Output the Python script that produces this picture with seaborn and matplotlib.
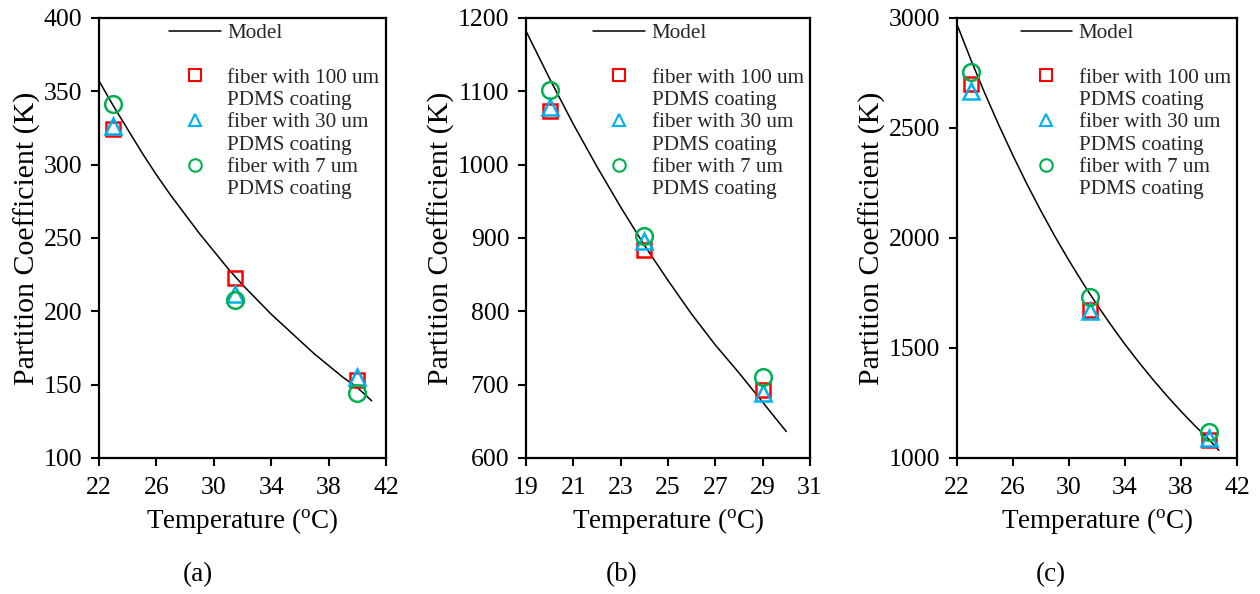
import matplotlib
matplotlib.use("Agg")
import matplotlib.pyplot as plt
from matplotlib.lines import Line2D
import seaborn as sns

# ---------------- data ----------------
# Panel (a)
a_temp = [23, 31.5, 40]
a_fiber100 = [324, 223, 153]
a_fiber30 = [326, 212, 155]
a_fiber7 = [341, 208, 144]
a_model_temp = [22, 23, 24, 25, 26, 27, 28, 29, 30, 31, 32, 33, 34, 35, 36, 37, 38, 39, 40, 41]
a_model_k = [357, 340, 324, 308, 293, 279, 266, 253, 241, 229, 218, 208, 198, 189, 180, 171, 163, 155, 148, 139]

# Panel (b)
b_temp = [20, 24, 29]
b_fiber100 = [1073, 884, 692]
b_fiber30 = [1078, 896, 689]
b_fiber7 = [1101, 902, 711]
b_model_temp = [19, 20, 21, 22, 23, 24, 25, 26, 27, 28, 29, 30]
b_model_k = [1182, 1117, 1055, 997, 942, 890, 842, 796, 754, 716, 676, 636]

# Panel (c)
c_temp = [23, 31.5, 40]
c_fiber100 = [2700, 1671, 1082]
c_fiber30 = [2669, 1668, 1090]
c_fiber7 = [2752, 1732, 1119]
c_model_temp = [22, 23, 24, 25, 26, 27, 28, 29, 30, 31, 32, 33, 34, 35, 36, 37, 38, 39, 40, 40.7]
c_model_k = [2970, 2808, 2655, 2511, 2374, 2244, 2122, 2006, 1897, 1794, 1696, 1604, 1516, 1434, 1356, 1282, 1212, 1146, 1084, 1035]

panel_labels = ["(a)", "(b)", "(c)"]
series_labels = ["fiber with 100 um", "fiber with 30 um", "fiber with 7 um"]
second_line = "PDMS coating"
model_label = "Model"
xlabel = "Temperature ($\\mathregular{^{o}}$C)"
ylabel = "Partition Coefficient (K)"

a_xticks = [22, 26, 30, 34, 38, 42]
a_yticks = [100, 150, 200, 250, 300, 350, 400]
b_xticks = [19, 21, 23, 25, 27, 29, 31]
b_yticks = [600, 700, 800, 900, 1000, 1100, 1200]
c_xticks = [22, 26, 30, 34, 38, 42]
c_yticks = [1000, 1500, 2000, 2500, 3000]

# ---------------- style ----------------
sns.set_theme(style="white")
plt.rcParams["font.family"] = ["Liberation Serif", "DejaVu Serif"]
plt.rcParams["mathtext.fontset"] = "custom"
plt.rcParams["mathtext.rm"] = "Liberation Serif"
plt.rcParams["mathtext.it"] = "Liberation Serif:italic"

RED = "#FF0000"
BLUE = "#00B0F0"
GREEN = "#00B050"
colors = [RED, BLUE, GREEN]
markers = ["s", "^", "o"]
msizes = [10.5, 11, 12]
leg_msizes = [8, 8.5, 9]

fig = plt.figure(figsize=(12.6, 5.94), dpi=100)
bottom, top = 0.229, 0.970
positions = [(99, 386), (526, 810), (957, 1237)]

panels = [
    (a_temp, [a_fiber100, a_fiber30, a_fiber7], a_model_temp, a_model_k, a_xticks, a_yticks),
    (b_temp, [b_fiber100, b_fiber30, b_fiber7], b_model_temp, b_model_k, b_xticks, b_yticks),
    (c_temp, [c_fiber100, c_fiber30, c_fiber7], c_model_temp, c_model_k, c_xticks, c_yticks),
]

for i, (temp, series, mt, mk, xt, yt) in enumerate(panels):
    l, r = positions[i]
    ax = fig.add_axes([l / 1260, bottom, (r - l) / 1260, top - bottom])
    sns.lineplot(x=mt, y=mk, ax=ax, color="black", linewidth=1.1, sort=False)
    for s, c, m, ms in zip(series, colors, markers, msizes):
        sns.lineplot(x=temp, y=s, ax=ax, color=c, marker=m, linestyle="none",
                     markerfacecolor="none", markeredgecolor=c, markersize=ms,
                     markeredgewidth=1.8, sort=False)
    ax.set_xlim(xt[0], xt[-1])
    ax.set_ylim(yt[0], yt[-1])
    ax.set_xticks(xt)
    ax.set_yticks(yt)
    ax.tick_params(axis="both", which="major", direction="out", length=6, width=1.5,
                   labelsize=18.5, color="black", labelcolor="black",
                   bottom=True, left=True, top=False, right=False)
    ax.tick_params(axis="x", pad=8)
    ax.tick_params(axis="y", pad=6)
    for sp in ax.spines.values():
        sp.set_visible(True)
        sp.set_color("black")
        sp.set_linewidth(1.6)
    ax.set_xlabel(xlabel, fontsize=19.5, color="black", labelpad=5)
    ax.set_ylabel(ylabel, fontsize=21.5, color="black", labelpad=2)

    blank = Line2D([], [], linestyle="none", marker=None)
    handles = [Line2D([], [], color="black", linewidth=1.1), blank]
    labels = [model_label, " "]
    for lab, c, m, ms in zip(series_labels, colors, markers, leg_msizes):
        handles.append(Line2D([], [], linestyle="none", marker=m, markersize=ms,
                              markerfacecolor="none", markeredgecolor=c, markeredgewidth=1.5))
        labels.append(lab)
        handles.append(blank)
        labels.append(second_line)
    ax.legend(handles, labels, loc="upper right", bbox_to_anchor=(0.985, 0.992),
              frameon=False, fontsize=15.2,
              handlelength=2.45, handletextpad=0.3, labelspacing=0.12,
              borderaxespad=0.0, borderpad=0.1)

    fig.text(((l + r) / 2 - 45) / 1260 if i == 0 else ((l + r) / 2 - 46) / 1260,
             0.032, panel_labels[i], fontsize=19.5, ha="center", va="center", color="black")

fig.savefig("out.png", dpi=100)
